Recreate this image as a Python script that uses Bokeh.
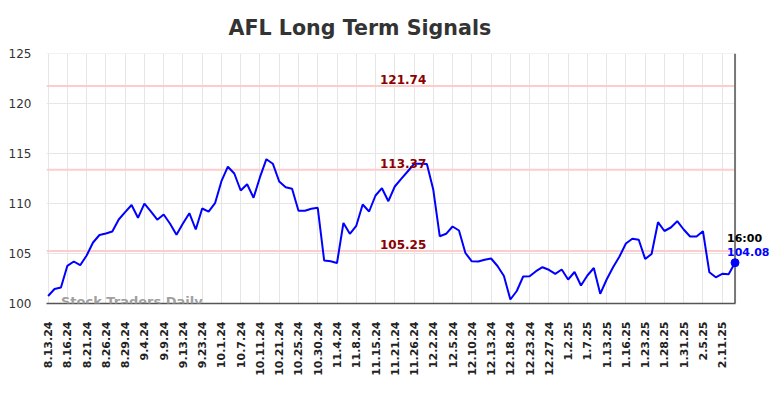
import math
from bokeh.plotting import figure
from bokeh.models import ColumnDataSource, FixedTicker, Label, Range1d
from bokeh.embed import file_html
from bokeh.resources import INLINE

# ---- data ----
values = [
    100.75, 101.45, 101.6, 103.77, 104.2, 103.83, 104.8, 106.1, 106.85, 107.0,
    107.2, 108.4, 109.13, 109.85, 108.57, 109.98, 109.22, 108.38, 108.9, 107.97,
    106.88, 108.0, 109.03, 107.4, 109.5, 109.18, 110.03, 112.23, 113.68, 113.0,
    111.3, 111.93, 110.57, 112.63, 114.43, 113.98, 112.2, 111.62, 111.47, 109.27,
    109.27, 109.47, 109.57, 104.3, 104.22, 104.05, 108.05, 106.97, 107.77, 109.9,
    109.2, 110.8, 111.53, 110.23, 111.7, 112.47, 113.2, 113.97, 113.97, 113.95,
    111.37, 106.73, 106.97, 107.7, 107.3, 105.05, 104.22, 104.2, 104.37, 104.5,
    103.75, 102.75, 100.4, 101.25, 102.7, 102.72, 103.23, 103.63, 103.37, 102.97,
    103.4, 102.4, 103.15, 101.8, 102.8, 103.55, 100.97, 102.4, 103.63, 104.7,
    106.0, 106.47, 106.37, 104.45, 104.95, 108.13, 107.25, 107.6, 108.23, 107.4,
    106.7, 106.7, 107.23, 103.12, 102.62, 102.97, 102.93, 104.08,
]
tick_labels = [
    "8.13.24", "8.16.24", "8.21.24", "8.26.24", "8.29.24", "9.4.24", "9.9.24",
    "9.13.24", "9.23.24", "10.1.24", "10.7.24", "10.11.24", "10.21.24",
    "10.25.24", "10.30.24", "11.4.24", "11.8.24", "11.15.24", "11.21.24",
    "11.26.24", "12.2.24", "12.5.24", "12.10.24", "12.13.24", "12.18.24",
    "12.23.24", "12.27.24", "1.2.25", "1.7.25", "1.13.25", "1.16.25",
    "1.23.25", "1.28.25", "1.31.25", "2.5.25", "2.11.25",
]
tick_step = 3
y_ticks = [100, 105, 110, 115, 120, 125]
signal_levels = [121.74, 113.37, 105.25]
last_time = "16:00"
title_text = "AFL Long Term Signals"
watermark = "Stock Traders Daily"

# ---- derived ----
xs = list(range(len(values)))
tick_pos = [i * tick_step for i in range(len(tick_labels))]
last_x = xs[-1]
last_y = values[-1]
x0 = -0.25
px_per_unit = 6.42
frame_w = 724
x1 = x0 + frame_w / px_per_unit
y_lo, y_hi = y_ticks[0], y_ticks[-1]

p = figure(
    frame_width=frame_w, frame_height=250,
    output_backend="svg", toolbar_location=None,
    x_range=Range1d(x0, x1), y_range=Range1d(y_lo, y_hi),
    min_border_left=46, min_border_right=0, min_border_top=45, min_border_bottom=10,
)
p.outline_line_color = None
p.background_fill_color = "white"
p.border_fill_color = "white"

# title
p.title.text = title_text
p.title.text_font = "DejaVu Sans"
p.title.text_font_size = "20.6px"
p.title.text_font_style = "bold"
p.title.text_color = "#333333"
p.title.align = "left"
p.title.offset = 182
p.title.standoff = 27

# axes
xa = p.xaxis[0]
xa.ticker = FixedTicker(ticks=tick_pos)
xa.major_label_overrides = {t: lab for t, lab in zip(tick_pos, tick_labels)}
xa.major_label_orientation = math.pi / 2
xa.major_label_text_font = "DejaVu Sans"
xa.major_label_text_font_size = "11px"
xa.major_label_text_font_style = "bold"
xa.major_label_text_color = "#222222"
xa.major_tick_out = 0
xa.major_tick_in = 0
xa.minor_tick_out = 0
xa.minor_tick_in = 0
xa.major_label_standoff = 18
xa.axis_line_color = "#555555"
xa.axis_line_width = 1.5
xa.bounds = (x0, last_x)

ya = p.yaxis[0]
ya.ticker = FixedTicker(ticks=y_ticks)
ya.major_label_text_font = "DejaVu Sans"
ya.major_label_text_font_size = "12px"
ya.major_label_text_color = "#333333"
ya.major_tick_out = 0
ya.major_tick_in = 0
ya.minor_tick_out = 0
ya.minor_tick_in = 0
ya.axis_line_color = None
ya.major_label_standoff = 15

p.xgrid.grid_line_color = "#e6e6e6"
p.xgrid.grid_line_width = 1
p.ygrid.grid_line_color = None

# horizontal grid only up to the last point
p.segment(x0=[x0] * len(y_ticks), y0=y_ticks, x1=[last_x] * len(y_ticks), y1=y_ticks,
          line_color="#e6e6e6", line_width=1)

# signal levels
p.segment(x0=[x0] * len(signal_levels), y0=signal_levels,
          x1=[last_x] * len(signal_levels), y1=signal_levels,
          line_color="#ffcccc", line_width=2)
for lv in signal_levels:
    p.add_layout(Label(
        x=55.3, y=lv, text=f"{lv:.2f}", text_align="center", text_baseline="bottom",
        y_offset=2, text_font="DejaVu Sans", text_font_size="12px",
        text_font_style="bold", text_color="#8b0000",
    ))

# right marker line (drawn beneath the price line and dot)
p.segment(x0=[last_x], y0=[y_lo], x1=[last_x], y1=[y_hi],
          line_color="#777777", line_width=2)

# price line
src = ColumnDataSource(dict(x=xs, y=values))
p.line("x", "y", source=src, line_color="#0000ff", line_width=2)
p.scatter([last_x], [last_y], size=8, color="#0000ff")

p.add_layout(Label(
    x=last_x, y=last_y, text=f"{last_y:.2f}", x_offset=-8, y_offset=11,
    text_baseline="middle", text_align="left", text_font="DejaVu Sans",
    text_font_size="11px", text_font_style="bold", text_color="#0000ff",
))
p.add_layout(Label(
    x=last_x, y=last_y, text=last_time, x_offset=-8, y_offset=24,
    text_baseline="middle", text_align="left", text_font="DejaVu Sans",
    text_font_size="11px", text_font_style="bold", text_color="#000000",
))

# watermark
p.add_layout(Label(
    x=2, y=100, text=watermark, y_offset=2, text_baseline="middle",
    text_align="left", text_font="DejaVu Sans", text_font_size="13px",
    text_font_style="bold", text_color="#a0a0a0",
))

open("out.html", "w").write(file_html(p, INLINE))
